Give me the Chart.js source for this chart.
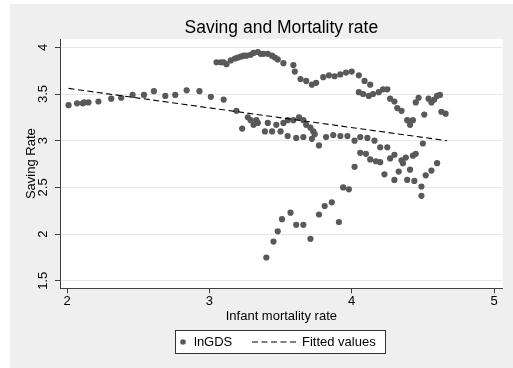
<!DOCTYPE html>
<html>
<head>
<meta charset="utf-8">
<script src="https://cdn.jsdelivr.net/npm/chart.js@4.4.1/dist/chart.umd.min.js"></script>
<style>
  html, body { margin: 0; padding: 0; background: #ffffff; }
  canvas { display: block; }
</style>
</head>
<body>
<canvas id="chart" width="513" height="368"></canvas>
<script>
// Infant mortality rate (log) vs. saving rate (log GDS)
const mortality = [
  2.01, 2.07, 2.11, 2.12, 2.15, 2.22, 2.31, 2.38, 2.46, 2.54, 2.61, 2.69, 2.76, 2.84, 2.93, 3.01, 3.10, 3.19,
  3.05, 3.08, 3.10, 3.12, 3.15, 3.18, 3.20, 3.22, 3.24, 3.26, 3.29, 3.31, 3.34, 3.36, 3.38, 3.41, 3.44, 3.46,
  3.48, 3.52, 3.59, 3.60, 3.64, 3.68, 3.72, 3.75, 3.80, 3.84, 3.88, 3.92, 3.96, 4.00, 4.05, 4.09, 4.13,
  4.05, 4.08, 4.12, 4.15, 4.19, 4.22, 4.25, 4.27, 4.30, 4.32, 4.35, 4.39, 4.43, 4.41, 4.45, 4.47, 4.51, 4.54,
  4.56, 4.58, 4.60, 4.62, 4.63, 4.66,
  3.23, 3.27, 3.29, 3.31, 3.33, 3.34, 3.39, 3.41, 3.44, 3.47, 3.50, 3.52, 3.55, 3.55, 3.59, 3.61, 3.63, 3.66,
  3.66, 3.68, 3.71, 3.72, 3.73, 3.74, 3.77, 3.82, 3.87, 3.92, 3.97, 4.02, 4.06, 4.11, 4.16, 4.20, 4.25, 4.50,
  4.02, 4.06, 4.10, 4.13, 4.17, 4.20, 4.27, 4.30, 4.35, 4.38, 4.43, 4.45, 4.36, 4.23, 4.30, 4.33, 4.39, 4.41,
  4.44, 4.49, 4.49, 4.52, 4.56, 4.60,
  3.40, 3.45, 3.48, 3.51, 3.57, 3.61, 3.66, 3.71, 3.77, 3.81, 3.86, 3.91, 3.94, 3.98
];
const saving = [
  3.38, 3.40, 3.40, 3.41, 3.41, 3.42, 3.45, 3.46, 3.49, 3.49, 3.53, 3.48, 3.49, 3.54, 3.53, 3.47, 3.44, 3.32,
  3.84, 3.84, 3.84, 3.82, 3.86, 3.88, 3.89, 3.90, 3.91, 3.91, 3.92, 3.94, 3.95, 3.93, 3.93, 3.93, 3.91, 3.89,
  3.87, 3.83, 3.81, 3.74, 3.66, 3.64, 3.60, 3.62, 3.68, 3.70, 3.69, 3.71, 3.73, 3.74, 3.70, 3.64, 3.60,
  3.52, 3.50, 3.48, 3.50, 3.52, 3.55, 3.55, 3.45, 3.42, 3.35, 3.32, 3.22, 3.22, 3.17, 3.41, 3.46, 3.28, 3.45,
  3.41, 3.44, 3.48, 3.49, 3.31, 3.29,
  3.13, 3.25, 3.22, 3.17, 3.22, 3.19, 3.10, 3.19, 3.10, 3.17, 3.10, 3.19, 3.22, 3.05, 3.22, 3.03, 3.25, 3.22,
  3.04, 3.17, 3.14, 3.02, 3.10, 3.07, 2.95, 3.04, 3.06, 3.05, 3.05, 3.00, 3.04, 3.03, 3.00, 2.93, 2.93, 2.97,
  2.72, 2.87, 2.86, 2.80, 2.78, 2.77, 2.81, 2.85, 2.79, 2.82, 2.84, 2.86, 2.76, 2.64, 2.58, 2.67, 2.58, 2.69,
  2.57, 2.51, 2.41, 2.63, 2.68, 2.76,
  1.75, 1.92, 2.03, 2.16, 2.23, 2.10, 2.10, 1.95, 2.21, 2.30, 2.34, 2.13, 2.50, 2.48
];

// Linear fit endpoints
const fitMortality = [2.01, 4.67];
const fitSaving = [3.56, 3.00];

// Axis ticks
const xTicks = [2, 3, 4, 5];
const yTicks = [1.5, 2, 2.5, 3, 3.5, 4];

const chartTitle = 'Saving and Mortality rate';
const xTitle = 'Infant mortality rate';
const yTitle = 'Saving Rate';
const seriesLabel = 'lnGDS';
const fitLabel = 'Fitted values';

const FONT = '"Liberation Sans", Arial, Helvetica, sans-serif';
const DOT = '#595959';
const AXIS = '#404040';

const scatterPoints = mortality.map((x, i) => ({ x: x, y: saving[i] }));
const fitPoints = fitMortality.map((x, i) => ({ x: x, y: fitSaving[i] }));

const decor = {
  id: 'decor',
  beforeDraw(chart) {
    const { ctx, chartArea: a } = chart;
    ctx.save();
    ctx.fillStyle = '#ffffff';
    ctx.fillRect(0, 0, chart.width, chart.height);
    ctx.fillStyle = '#efefef';
    ctx.fillRect(10, 4, chart.width - 10, chart.height - 4);
    ctx.fillStyle = '#ffffff';
    ctx.fillRect(a.left, a.top, a.right - a.left, a.bottom - a.top);
    ctx.restore();
  },
  afterDraw(chart) {
    const { ctx, chartArea: a } = chart;
    const ys = chart.scales.y;
    const cx = (a.left + a.right) / 2;
    ctx.save();
    ctx.fillStyle = '#000000';

    // title
    ctx.font = '17.5px ' + FONT;
    ctx.textAlign = 'center';
    ctx.textBaseline = 'alphabetic';
    ctx.fillText(chartTitle, cx, 33);

    // x axis title
    ctx.font = '13px ' + FONT;
    ctx.fillText(xTitle, cx, 320);

    // rotated y tick labels
    ctx.font = '13px ' + FONT;
    ctx.textBaseline = 'middle';
    ys.ticks.forEach(t => {
      const py = ys.getPixelForValue(t.value);
      ctx.save();
      ctx.translate(43, py);
      ctx.rotate(-Math.PI / 2);
      ctx.fillText(String(t.value), 0, 0);
      ctx.restore();
    });

    // y axis title
    ctx.save();
    ctx.translate(31, (a.top + a.bottom) / 2);
    ctx.rotate(-Math.PI / 2);
    ctx.font = '13px ' + FONT;
    ctx.textBaseline = 'middle';
    ctx.fillText(yTitle, 0, 0);
    ctx.restore();

    // legend box
    const ds = chart.data.datasets;
    const bx = 175.5, by = 330.5, bw = 210, bh = 23;
    const my = by + bh / 2;
    ctx.fillStyle = '#ffffff';
    ctx.fillRect(bx, by, bw, bh);
    ctx.strokeStyle = '#333333';
    ctx.lineWidth = 1;
    ctx.strokeRect(bx, by, bw, bh);

    ctx.fillStyle = DOT;
    ctx.beginPath();
    ctx.arc(183, my, 2.8, 0, Math.PI * 2);
    ctx.fill();

    ctx.fillStyle = '#000000';
    ctx.textAlign = 'left';
    ctx.textBaseline = 'middle';
    ctx.font = '13px ' + FONT;
    ctx.fillText(ds[1].label, 194, my);

    ctx.strokeStyle = '#000000';
    ctx.lineWidth = 1.1;
    ctx.setLineDash([6, 3.5]);
    ctx.beginPath();
    ctx.moveTo(252, my);
    ctx.lineTo(298, my);
    ctx.stroke();
    ctx.setLineDash([]);
    ctx.fillText(ds[0].label, 302, my);

    ctx.restore();
  }
};

new Chart(document.getElementById('chart'), {
  type: 'scatter',
  data: {
    datasets: [
      {
        label: fitLabel,
        data: fitPoints,
        showLine: true,
        borderColor: '#000000',
        borderWidth: 1.1,
        borderDash: [6, 3.5],
        pointRadius: 0,
        fill: false,
        order: 1
      },
      {
        label: seriesLabel,
        data: scatterPoints,
        backgroundColor: DOT,
        borderColor: DOT,
        borderWidth: 0,
        pointRadius: 3.1,
        order: 2
      }
    ]
  },
  options: {
    responsive: false,
    animation: false,
    devicePixelRatio: 1,
    layout: { padding: { left: 55, top: 39, right: 10.3, bottom: 55.7 } },
    plugins: {
      legend: { display: false },
      tooltip: { enabled: false },
      title: { display: false }
    },
    scales: {
      x: {
        type: 'linear',
        min: 1.95,
        max: 5.061,
        afterFit: s => { s.height = 24; },
        afterBuildTicks: s => { s.ticks = xTicks.map(v => ({ value: v })); },
        ticks: {
          font: { family: FONT, size: 13 },
          color: '#000000',
          padding: 0,
          maxRotation: 0,
          autoSkip: false,
          callback: v => String(v)
        },
        grid: {
          drawOnChartArea: false,
          drawTicks: true,
          tickLength: 5,
          tickColor: AXIS,
          tickWidth: 1
        },
        border: { display: true, color: AXIS, width: 1 }
      },
      y: {
        type: 'linear',
        min: 1.42,
        max: 4.089,
        afterFit: s => { s.width = 5; },
        afterBuildTicks: s => { s.ticks = yTicks.map(v => ({ value: v })); },
        ticks: { display: false },
        grid: {
          color: '#e6e6e6',
          lineWidth: 1,
          drawTicks: true,
          tickLength: 5,
          tickColor: AXIS,
          tickWidth: 1
        },
        border: { display: true, color: AXIS, width: 1 }
      }
    }
  },
  plugins: [decor]
});
</script>
</body>
</html>
